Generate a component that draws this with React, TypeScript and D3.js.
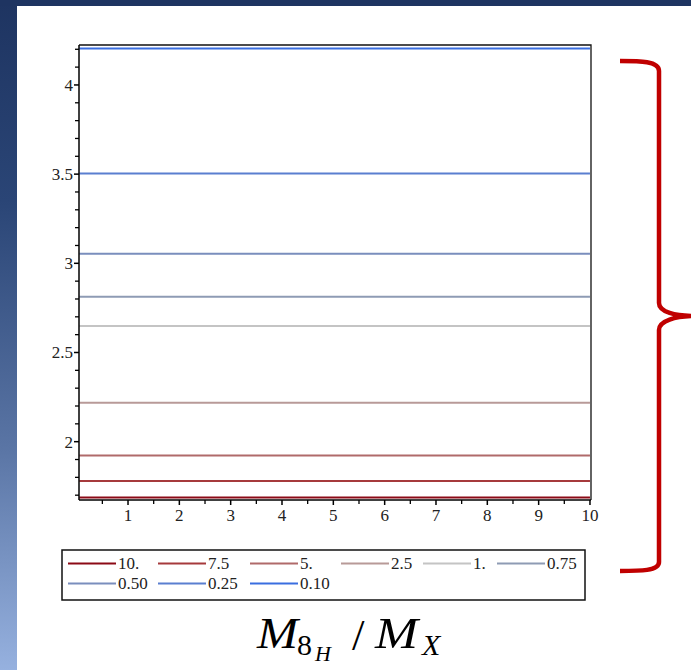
import { useEffect, useRef } from "react";
import * as d3 from "d3";

// legend labels (Maple ordering) and the constant level of each curve
const seriesLabels = ["10.", "7.5", "5.", "2.5", "1.", "0.75", "0.50", "0.25", "0.10"];
const seriesColors = ["#8c0a16", "#a63a3c", "#b06a6a", "#b89a98", "#c4c4c4", "#8e9bb4", "#7a8ebd", "#5a7fd0", "#3a6ee0"];
const seriesLevels = [1.687, 1.78, 1.922, 2.218, 2.649, 2.812, 3.053, 3.503, 4.205];
const xSamples = [0.05, 10];

const xTicks = [1, 2, 3, 4, 5, 6, 7, 8, 9, 10];
const xMinorTicks = [0.5, 1.5, 2.5, 3.5, 4.5, 5.5, 6.5, 7.5, 8.5, 9.5];
const yTicks = [2, 2.5, 3, 3.5, 4];
const yTickLabels = ["2", "2.5", "3", "3.5", "4"];
const yMinorTicks = [1.7, 1.8, 1.9, 2.1, 2.2, 2.3, 2.4, 2.6, 2.7, 2.8, 2.9, 3.1, 3.2, 3.3, 3.4, 3.6, 3.7, 3.8, 3.9, 4.1, 4.2];

const W = 691;
const H = 670;

const App = () => {
    const svgRef = useRef<SVGSVGElement | null>(null);

    useEffect(() => {
        const svg = d3.select(svgRef.current);
        svg.selectAll("*").remove();

        const plot = { left: 79, right: 591, top: 45, bottom: 500 };
        const serif = "'Times New Roman', 'Liberation Serif', serif";

        // slide background: navy top band, graded left band
        const defs = svg.append("defs");
        const grad = defs
            .append("linearGradient")
            .attr("id", "sideGrad")
            .attr("x1", 0)
            .attr("y1", 0)
            .attr("x2", 0)
            .attr("y2", 1);
        grad.append("stop").attr("offset", "0").attr("stop-color", "#1e3461");
        grad.append("stop").attr("offset", "0.3").attr("stop-color", "#2a4576");
        grad.append("stop").attr("offset", "0.67").attr("stop-color", "#5a75a5");
        grad.append("stop").attr("offset", "1").attr("stop-color", "#96b1df");

        svg.append("rect").attr("width", W).attr("height", H).attr("fill", "#ffffff");
        svg.append("rect").attr("width", 17).attr("height", H).attr("fill", "url(#sideGrad)");
        svg.append("rect").attr("width", W).attr("height", 6).attr("fill", "#1e3461");

        const x = d3.scaleLinear().domain([0.045, 10.02]).range([plot.left, plot.right]);
        const y = d3.scaleLinear().domain([1.673, 4.224]).range([plot.bottom, plot.top]);

        // frame top/right
        svg
            .append("path")
            .attr("d", `M${plot.left},${plot.top}H${plot.right}V${plot.bottom}`)
            .attr("fill", "none")
            .attr("stroke", "#111")
            .attr("stroke-width", 1.3);

        // curves
        seriesLevels.forEach((lvl, i) => {
            svg
                .append("path")
                .attr(
                    "d",
                    d3
                        .line<number>()
                        .x((d) => x(d))
                        .y(() => y(lvl))(xSamples)
                )
                .attr("fill", "none")
                .attr("stroke", seriesColors[i])
                .attr("stroke-width", 2);
        });

        // y axis
        const yAxis = svg.append("g").attr("transform", `translate(${plot.left},0)`);
        yAxis
            .append("line")
            .attr("y1", plot.top)
            .attr("y2", plot.bottom)
            .attr("stroke", "#000")
            .attr("stroke-width", 1.5);
        yMinorTicks.forEach((t) => {
            yAxis.append("line").attr("x1", -4).attr("x2", 0).attr("y1", y(t)).attr("y2", y(t)).attr("stroke", "#000").attr("stroke-width", 1.3);
        });
        yTicks.forEach((t, i) => {
            yAxis.append("line").attr("x1", -5).attr("x2", 0).attr("y1", y(t)).attr("y2", y(t)).attr("stroke", "#000").attr("stroke-width", 1.5);
            yAxis
                .append("text")
                .attr("x", -6)
                .attr("y", y(t))
                .attr("dy", "0.35em")
                .attr("text-anchor", "end")
                .style("font-family", serif)
                .style("font-size", "17px")
                .attr("fill", "#222")
                .text(yTickLabels[i]);
        });

        // x axis
        const xAxis = svg.append("g").attr("transform", `translate(0,${plot.bottom})`);
        xAxis
            .append("line")
            .attr("x1", plot.left)
            .attr("x2", plot.right)
            .attr("stroke", "#000")
            .attr("stroke-width", 1.5);
        xMinorTicks.forEach((t) => {
            xAxis.append("line").attr("x1", x(t)).attr("x2", x(t)).attr("y1", 0).attr("y2", 4).attr("stroke", "#000").attr("stroke-width", 1.3);
        });
        xTicks.forEach((t) => {
            xAxis.append("line").attr("x1", x(t)).attr("x2", x(t)).attr("y1", 0).attr("y2", 5).attr("stroke", "#000").attr("stroke-width", 1.5);
            xAxis
                .append("text")
                .attr("x", x(t))
                .attr("y", 21)
                .attr("text-anchor", "middle")
                .style("font-family", serif)
                .style("font-size", "17px")
                .attr("fill", "#222")
                .text(String(t));
        });

        // legend
        const legend = svg.append("g");
        legend
            .append("rect")
            .attr("x", 62)
            .attr("y", 550)
            .attr("width", 523)
            .attr("height", 50)
            .attr("fill", "#fff")
            .attr("stroke", "#111")
            .attr("stroke-width", 1.5);
        const legendCols = [68, 158, 250, 341, 423, 497];
        seriesLabels.forEach((lab, i) => {
            const row = i < 6 ? 0 : 1;
            const col = i < 6 ? i : i - 6;
            const lx = legendCols[col];
            const ly = row === 0 ? 563.5 : 583.5;
            legend
                .append("line")
                .attr("x1", lx)
                .attr("x2", lx + 48)
                .attr("y1", ly)
                .attr("y2", ly)
                .attr("stroke", seriesColors[i])
                .attr("stroke-width", 2);
            legend
                .append("text")
                .attr("x", lx + 50)
                .attr("y", ly)
                .attr("dy", "0.35em")
                .style("font-family", serif)
                .style("font-size", "17px")
                .attr("fill", "#222")
                .text(lab);
        });

        // x label: M_{8_H}/M_X, glyph by glyph
        const pieces = [
            { t: "M", x: 257, y: 648, size: 45, italic: true, len: 41 },
            { t: "8", x: 297, y: 655, size: 30, italic: false, len: 0 },
            { t: "H", x: 315, y: 661, size: 22, italic: true, len: 0 },
            { t: "/", x: 352, y: 650, size: 45, italic: false, len: 0 },
            { t: "M", x: 375, y: 648, size: 45, italic: true, len: 43 },
            { t: "X", x: 422, y: 655, size: 30, italic: true, len: 0 },
        ];
        pieces.forEach((p) => {
            const el = svg
                .append("text")
                .attr("x", p.x)
                .attr("y", p.y)
                .style("font-family", serif)
                .style("font-size", `${p.size}px`)
                .style("font-style", p.italic ? "italic" : "normal")
                .attr("fill", "#000")
                .text(p.t);
            if (p.len) el.attr("textLength", p.len).attr("lengthAdjust", "spacingAndGlyphs");
        });

        // red brace
        svg
            .append("path")
            .attr(
                "d",
                "M620,61 C640,61 659,61 659,71 L659,303 C659,312 675,316 696,316 C675,316 659,321 659,330 L659,562 C659,571 640,571 620,571"
            )
            .attr("fill", "none")
            .attr("stroke", "#c00000")
            .attr("stroke-width", 4.5);
    }, []);

    return (
        <svg
            ref={svgRef}
            width={W}
            height={H}
            style={{ position: "absolute", left: 0, top: 0, display: "block" }}
        ></svg>
    );
};

export default App;
